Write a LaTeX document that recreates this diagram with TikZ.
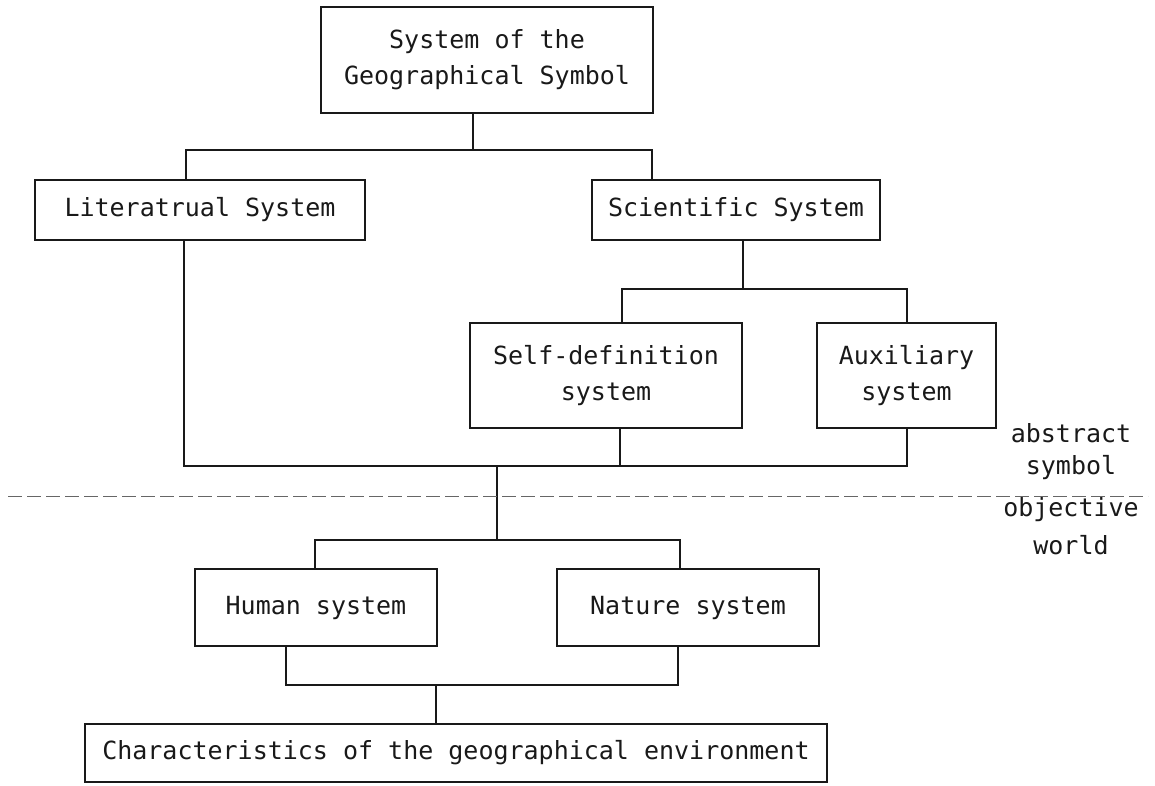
\documentclass[tikz,border=0pt]{standalone}
\usepackage{fontspec}
\setmonofont{DejaVu Sans Mono}
\begin{document}
\begin{tikzpicture}[x=1pt,y=-1pt,
  txt/.style={font=\ttfamily\fontsize{25}{36}\selectfont, text=black!90, inner sep=0pt, align=center},
  sysbox/.style={txt, draw=black!90, line width=1.8pt, minimum width=#1},
  sysbox/.default=100pt,
  link/.style={draw=black!90, line width=1.8pt},
  divider/.style={draw=black!60, line width=1pt, dash pattern=on 14pt off 5pt}]
  \useasboundingbox (0,0) rectangle (1155,786);

  % boxes
  \node[sysbox=332pt, minimum height=106pt] (top) at (487,60) {System of the\\Geographical Symbol};
  \node[sysbox=330pt, minimum height=60pt] (lit) at (200,210) {Literatrual System};
  \node[sysbox=288pt, minimum height=60pt] (sci) at (736,210) {Scientific System};
  \node[sysbox=272pt, minimum height=105pt] (self) at (606,375.5) {Self-definition\\system};
  \node[sysbox=179pt, minimum height=105pt] (aux) at (906.5,375.5) {Auxiliary\\system};
  \node[sysbox=242pt, minimum height=77pt] (human) at (316,607.5) {Human system};
  \node[sysbox=262pt, minimum height=77pt] (nature) at (688,607.5) {Nature system};
  \node[sysbox=742pt, minimum height=58pt] (char) at (456,753) {Characteristics of the geographical environment};

  % side labels
  \node[txt] (abs1) at (1071,433) {abstract};
  \node[txt] (abs2) at (1071,468) {symbol};
  \node[txt] (obj1) at (1071,510) {objective};
  \node[txt] (obj2) at (1071,545) {world};

  % junction points
  \coordinate (j1) at (473,150);
  \coordinate (jA) at (186,150);
  \coordinate (jB) at (652,150);
  \coordinate (j2) at (743,289);
  \coordinate (jC) at (622,289);
  \coordinate (jD) at (907,289);
  \coordinate (jE) at (184,466);
  \coordinate (jF) at (907,466);
  \coordinate (jG) at (620,466);
  \coordinate (j3) at (497,466);
  \coordinate (j4) at (497,540);
  \coordinate (jH) at (315,540);
  \coordinate (jI) at (680,540);
  \coordinate (jJ) at (286,685);
  \coordinate (jK) at (678,685);
  \coordinate (j5) at (436,685);
  \coordinate (sepL) at (8,496);
  \coordinate (sepR) at (1148,496);

  % connectors
  \draw[link] (top.south -| j1) -- (j1);
  \draw[link] (lit.north -| jA) -- (jA) -- (jB) -- (sci.north -| jB);
  \draw[link] (sci.south -| j2) -- (j2);
  \draw[link] (self.north -| jC) -- (jC) -- (jD) -- (aux.north -| jD);
  \draw[link] (lit.south -| jE) -- (jE) -- (jF) -- (aux.south -| jF);
  \draw[link] (self.south -| jG) -- (jG);
  \draw[link] (j3) -- (j4);
  \draw[link] (human.north -| jH) -- (jH) -- (jI) -- (nature.north -| jI);
  \draw[link] (human.south -| jJ) -- (jJ) -- (jK) -- (nature.south -| jK);
  \draw[link] (j5) -- (char.north -| j5);

  % boundary between the abstract symbols and the objective world
  \draw[divider] (sepL) -- (sepR);
\end{tikzpicture}
\end{document}
